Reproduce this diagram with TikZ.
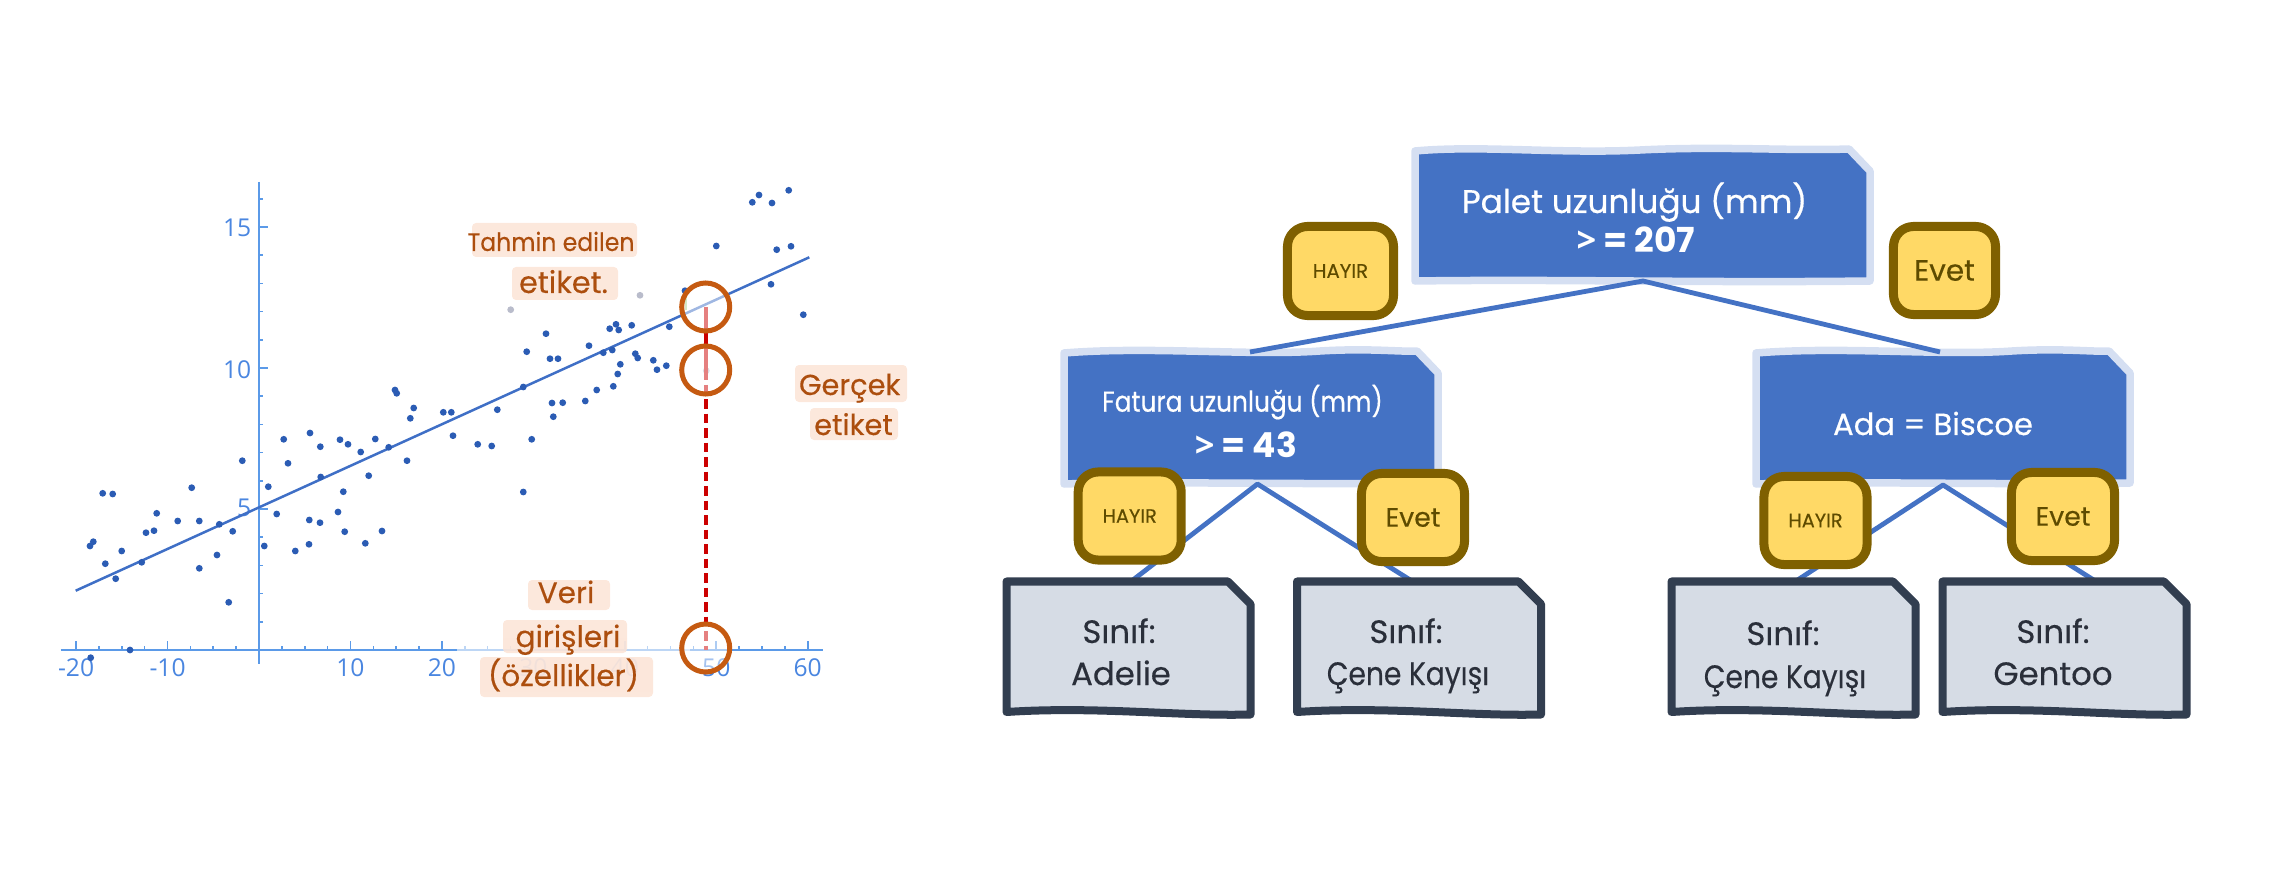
\documentclass[tikz,border=0pt]{standalone}
\usepackage{graphicx}
\usepackage{fontspec}
\setmainfont{Poppins}
\newfontfamily\tickfont{Open Sans}
\newfontfamily\medfont{Poppins}[FakeBold=0.5]
\newfontfamily\semifont{Poppins}[FakeBold=0.3]
\newcommand\fsz[1]{\fontsize{#1pt}{#1pt}\selectfont}
\definecolor{boxblue}{HTML}{4472C4}
\definecolor{boxrim}{HTML}{D5DFF2}
\definecolor{edgeblue}{HTML}{4472C4}
\definecolor{badgefill}{HTML}{FFD966}
\definecolor{badgerim}{HTML}{7F6000}
\definecolor{badgeink}{HTML}{5E4B00}
\definecolor{leaffill}{HTML}{D6DCE5}
\definecolor{leafrim}{HTML}{323E50}
\definecolor{leafink}{HTML}{2A2F3A}
\definecolor{axisblue}{HTML}{5B9AE8}
\definecolor{tickink}{HTML}{4A86E0}
\definecolor{dotblue}{HTML}{2B5CB4}
\definecolor{fitblue}{HTML}{3F6FC6}
\definecolor{ringorange}{HTML}{C55A11}
\definecolor{noteink}{HTML}{AC4E0E}
\definecolor{notebg}{HTML}{FCE4D6}
\definecolor{darkred}{HTML}{CC0000}
\definecolor{fadedot}{HTML}{B9BCCB}
\definecolor{greenmark}{HTML}{A9D18E}
\begin{document}
\begin{tikzpicture}[x=0.01cm,y=-0.01cm,line join=round,
  bluebox/.style={fill=boxblue,draw=boxrim,line width=0.075cm},
  leafbox/.style={fill=leaffill,draw=leafrim,line width=0.08cm},
  treeedge/.style={draw=edgeblue,line width=0.048cm},
  badge/.style={draw=badgerim,fill=badgefill,line width=0.09cm,rounded corners=0.2cm,minimum width=1.03cm,minimum height=0.88cm,inner sep=0pt,text=badgeink},
  boxtext/.style={anchor=base,text=white,inner sep=0pt},
  leaftext/.style={anchor=base,text=leafink,inner sep=0pt},
  note/.style={anchor=base,text=noteink,inner sep=0pt},
  notebox/.style={fill=notebg,fill opacity=0.85,rounded corners=0.04cm,draw=none},
  ticklab/.style={text=tickink,inner sep=0pt,font=\tickfont\fsz{7}},
  ring/.style={circle,draw=ringorange,line width=0.05cm,fill=white,fill opacity=0.5,minimum size=0.48cm,inner sep=0pt},
]
\useasboundingbox (0,0) rectangle (2281,876);

% ---------------- scatter plot ----------------
\draw[axisblue,line width=0.021cm] (60.7,650) -- (822.7,650);
\draw[axisblue,line width=0.021cm] (259,182) -- (259,664);
\foreach \k in {-8,...,24}{%
  \pgfmathsetmacro\xx{259+22.8625*\k}
  \pgfmathtruncatemacro\mm{mod(\k+40,4)}
  \ifnum\k=0\relax\else
    \ifnum\mm=0
      \draw[axisblue,line width=0.016cm] (\xx,650) -- (\xx,641);
    \else
      \draw[axisblue,line width=0.016cm] (\xx,650) -- (\xx,646);
    \fi
  \fi
}
\foreach \j in {1,...,16}{%
  \pgfmathsetmacro\yy{650-28.2*\j}
  \pgfmathtruncatemacro\mm{mod(\j,5)}
  \ifnum\mm=0
    \draw[axisblue,line width=0.016cm] (259,\yy) -- (268,\yy);
  \else
    \draw[axisblue,line width=0.016cm] (259,\yy) -- (263,\yy);
  \fi
}
\foreach \k/\lab in {-8/-20,-4/-10,4/10,8/20,12/30,16/40,20/50,24/60}{%
  \pgfmathsetmacro\xx{259+22.8625*\k}
  \node[ticklab,anchor=north] (xl\k) at (\xx,658) {\lab};
}
\node[ticklab,anchor=east] (yl5) at (252,508) {5};
\node[ticklab,anchor=east] (yl10) at (252,369.3) {10};
\node[ticklab,anchor=east] (yl15) at (252,228.3) {15};
% faded stretch of the axis
\fill[white,opacity=0.6] (457,638) rectangle (690,692);

% fit line
\coordinate (fitA) at (75.7,590.7);
\coordinate (fitB) at (809.3,257.3);
\draw[fitblue,line width=0.025cm] (fitA) -- (fitB);

% data points
\foreach \a/\b in {90.7/657.7,130/650,90/546,93.3/541.7,102.7/493.3,112.7/494,105.3/563.7,115.7/578.7,121.7/551,141.7/562.3,146/532.7,154/530.7,156.7/513.3,177.7/521,191.7/487.7,199.3/521,199.3/568.3,217/555,219.3/524.3,228.7/602.3,232.7/531.3,242.3/460.7,264.3/546,268.3/486.7,276.7/514,283.7/439.3,288/463.3,295.3/551,309.3/520,309/544.3,310/433,320.3/446.7,320/522.7,320.7/477,338/512,340/439.7,343.3/491.7,344.7/531.7,348/444.3,360.7/452,365.3/543.3,368.7/475.7,375.3/439,382/531,388.7/447.3,395/390,396.7/393.3,407/460.7,410.3/418.3,413.7/408,443.3/412.3,451.3/412.3,453/435.7,477.7/444.3,491.7/446,497.3/409.7,523.3/387,523.3/492,526.7/351.7,531.7/439.3,546/333.7,550/358.7,558/358.7,552/403,562.7/402.7,553.3/416.7,585.3/401,589/345.7,596.7/390,603.3/352.7,609.7/328.7,616/324.3,618.7/330,612.3/350,620.3/364.3,617.7/374,613.3/386.3,631.7/325.3,635.3/353.7,637.7/358,653.3/360.3,657/369.7,666.3/365.7,669.3/326.7,685/290.7,716.3/246,752.3/202.3,759/195,772/203,788.7/190.3,776.7/249.7,791/246.3,771/284.3,803.3/314.7}
  \fill[dotblue] (\a,\b) circle (3.4);
\foreach \a/\b in {510.7/309.7,640/295.3,706.3/370.7}
  \fill[fadedot] (\a,\b) circle (3.4);
\draw[greenmark,line width=0.016cm] (686,297) -- (686,310);

% residual
\coordinate (pred) at (705.7,307);
\coordinate (actual) at (705.7,370);
\coordinate (feat) at (705.7,650);
\draw[darkred,line width=0.038cm] (pred) -- (actual);
\draw[darkred,line width=0.038cm,dash pattern=on 0.095cm off 0.05cm] (actual) -- (feat);

% rings
\node[ring] (ringP) at (705.7,307) {};
\node[ring] (ringA) at (705.7,370) {};
\node[ring] (ringX) at (705.7,648) {};

% annotations
\fill[notebox] (472,223) rectangle (637,257);
\fill[notebox] (512,267) rectangle (618,300);
\fill[notebox] (795,365) rectangle (907,402);
\fill[notebox] (810,408) rectangle (898,440);
\fill[notebox] (528,580) rectangle (610,610);
\fill[notebox] (503,620) rectangle (627,653);
\fill[notebox] (480,657) rectangle (653,697);
\node[note] (tahmin) at (551,251) {\semifont\fsz{7.2}\scalebox{0.93}[1]{Tahmin edilen}};
\node[note] (etk1) at (563.5,293) {\semifont\fsz{8.6}etiket.};
\node[note] (gercek) at (849.7,395) {\semifont\fsz{8.2}Gerçek};
\node[note] (etk2) at (853.5,435) {\semifont\fsz{8.2}etiket};
\node[note] (veri) at (566,603) {\semifont\fsz{8.4}Veri};
\node[note] (giris) at (568,647) {\semifont\fsz{8.4}girişleri};
\node[note] (ozel) at (563.5,686) {\semifont\fsz{8.4}(özellikler)};

% ---------------- decision tree ----------------
% internal nodes
\filldraw[bluebox] (1415,151) .. controls (1480,145) and (1560,154) .. (1640,150) .. controls (1720,146) and (1790,151) .. (1849,149) -- (1870,171) -- (1870,281) .. controls (1700,283) and (1560,279) .. (1415,281) -- cycle;
\filldraw[bluebox] (1064,353) .. controls (1150,346) and (1250,356) .. (1320,351) .. controls (1370,348) and (1400,352) .. (1417,351) -- (1438,373) -- (1438,483) .. controls (1300,485) and (1150,481) .. (1064,484) -- cycle;
\filldraw[bluebox] (1756,353) .. controls (1842,346) and (1942,356) .. (2012,351) .. controls (2062,348) and (2092,352) .. (2109,351) -- (2130,373) -- (2130,483) .. controls (1992,485) and (1842,481) .. (1756,484) -- cycle;

% connection points
\coordinate (rootS) at (1643,281);
\coordinate (lcN) at (1250,352);
\coordinate (rcN) at (1940,352);
\coordinate (lcS) at (1257.5,484);
\coordinate (rcS) at (1943,485);
\coordinate (l1N) at (1129,583);
\coordinate (l2N) at (1415,583);
\coordinate (l3N) at (1793,583);
\coordinate (l4N) at (2100,584);

\draw[treeedge] (lcN) -- (rootS) -- (rcN);
\draw[treeedge] (l1N) -- (lcS) -- (l2N);
\draw[treeedge] (l3N) -- (rcS) -- (l4N);

% leaves
\foreach \L in {1006.5,1297,1671.5,1942.5}{%
  \filldraw[leafbox] (\L,581.5) -- ++(221.5,0) -- ++(22.5,22.5) -- ++(0,110.5) .. controls +(-70,2) and +(90,-6) .. ++(-244,-2.5) -- cycle;
}

% badges
\node[badge,minimum width=1.06cm,minimum height=0.89cm] (b0n) at (1340.5,271) {\semifont\fsz{5.6}HAYIR};
\node[badge,minimum width=1.02cm,minimum height=0.88cm] (b0y) at (1944.5,270.5) {\semifont\fsz{8.4}Evet};
\node[badge] (b1n) at (1129.7,516) {\semifont\fsz{5.5}HAYIR};
\node[badge] (b1y) at (1413,517.5) {\semifont\fsz{7.6}Evet};
\node[badge] (b2n) at (1815.5,520.5) {\semifont\fsz{5.5}HAYIR};
\node[badge] (b2y) at (2063,516.5) {\semifont\fsz{7.6}Evet};

% texts
\node[boxtext] (rootT1) at (1634.5,213) {\medfont\fsz{9.3}Palet uzunluğu (mm)};
\node[boxtext] (rootT2) at (1636,253) {\fsz{9.8}{\tickfont\bfseries >}\kern2pt\bfseries= 207};
\node[boxtext] (lcT1) at (1242.5,411.7) {\medfont\fsz{8.2}\scalebox{0.86}[1]{Fatura uzunluğu (mm)}};
\node[boxtext] (lcT2) at (1246,457) {\fsz{9.8}{\tickfont\bfseries >}\kern2pt\bfseries= 43};
\node[boxtext] (rcT) at (1933,435) {\medfont\fsz{8.7}Ada = Biscoe};

\node[leaftext] (l1a) at (1119,643) {\semifont\fsz{9.2}Sınıf:};
\node[leaftext] (l1b) at (1121,685) {\semifont\fsz{9.2}Adelie};
\node[leaftext] (l2a) at (1406,643) {\semifont\fsz{9.2}Sınıf:};
\node[leaftext] (l2b) at (1408,685) {\semifont\fsz{9.2}\scalebox{0.87}[1]{Çene Kayışı}};
\node[leaftext] (l3a) at (1783,645) {\semifont\fsz{9.2}Sınıf:};
\node[leaftext] (l3b) at (1785,688) {\semifont\fsz{9.2}\scalebox{0.87}[1]{Çene Kayışı}};
\node[leaftext] (l4a) at (2053,643) {\semifont\fsz{9.2}Sınıf:};
\node[leaftext] (l4b) at (2053,685) {\semifont\fsz{9.2}Gentoo};
\end{tikzpicture}
\end{document}
